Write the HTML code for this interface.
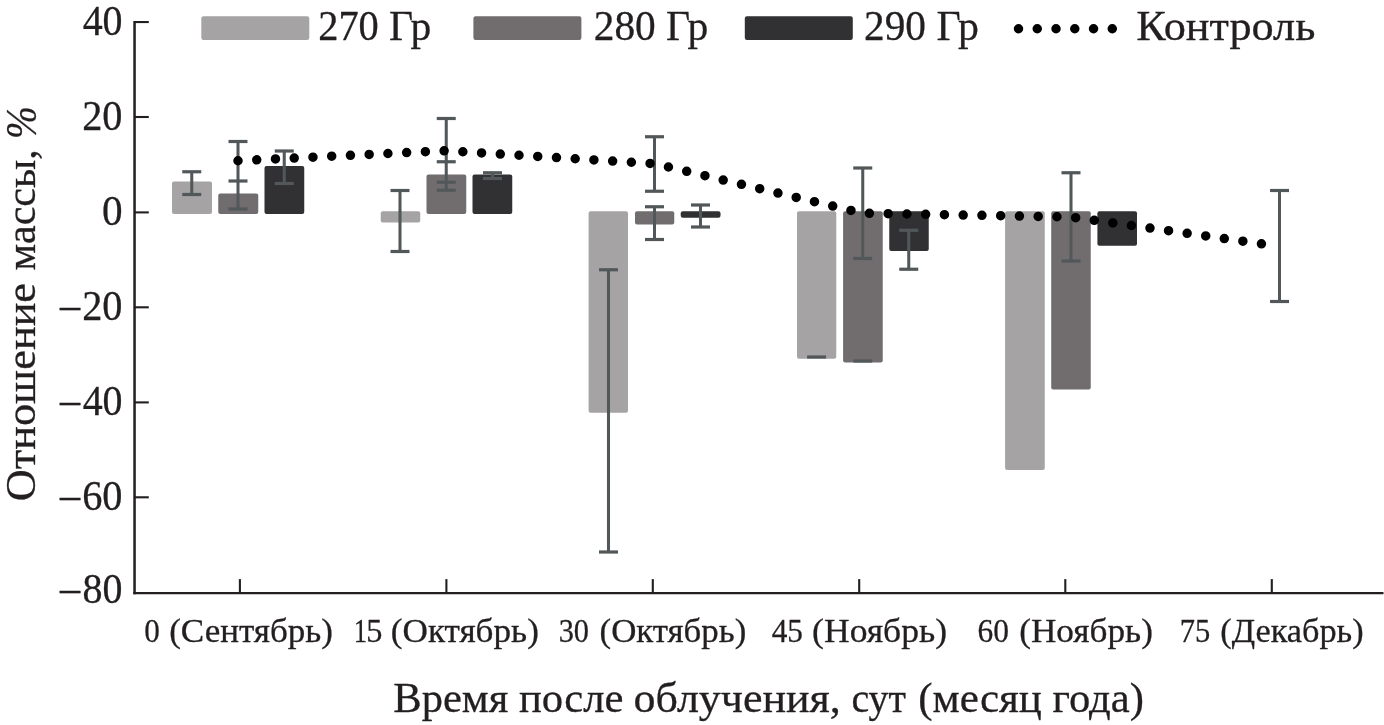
<!DOCTYPE html>
<html lang="ru">
<head>
<meta charset="utf-8">
<title>Отношение массы</title>
<style>
html,body{margin:0;padding:0;background:#fff;}
body{width:1384px;height:725px;overflow:hidden;}
svg{display:block;will-change:transform;}
text{font-family:"Liberation Serif","DejaVu Serif",serif;fill:#231f20;stroke:#231f20;stroke-width:0.3px;stroke-linejoin:round;}
</style>
</head>
<body>
<svg width="1384" height="725" viewBox="0 0 1384 725">
<rect x="0" y="0" width="1384" height="725" fill="#ffffff"/>
<g id="bars">
<rect x="172.00" y="181.50" width="40.00" height="32.50" rx="2" ry="2" fill="#a5a3a4"/>
<rect x="218.25" y="193.50" width="40.00" height="20.50" rx="2" ry="2" fill="#716d6e"/>
<rect x="264.50" y="166.00" width="39.75" height="48.00" rx="2" ry="2" fill="#313133"/>
<rect x="380.75" y="211.25" width="39.50" height="11.25" rx="2" ry="2" fill="#a5a3a4"/>
<rect x="426.50" y="174.50" width="39.75" height="39.50" rx="2" ry="2" fill="#716d6e"/>
<rect x="472.50" y="174.50" width="39.75" height="39.50" rx="2" ry="2" fill="#313133"/>
<rect x="588.60" y="211.25" width="39.40" height="201.50" rx="2" ry="2" fill="#a5a3a4"/>
<rect x="635.00" y="211.25" width="39.25" height="13.25" rx="2" ry="2" fill="#716d6e"/>
<rect x="680.75" y="211.25" width="39.75" height="6.50" rx="2" ry="2" fill="#313133"/>
<rect x="797.00" y="211.25" width="39.25" height="147.50" rx="2" ry="2" fill="#a5a3a4"/>
<rect x="843.10" y="211.25" width="39.65" height="151.25" rx="2" ry="2" fill="#716d6e"/>
<rect x="889.25" y="211.25" width="39.50" height="39.75" rx="2" ry="2" fill="#313133"/>
<rect x="1005.10" y="211.25" width="39.65" height="258.75" rx="2" ry="2" fill="#a5a3a4"/>
<rect x="1051.20" y="211.25" width="39.55" height="178.25" rx="2" ry="2" fill="#716d6e"/>
<rect x="1097.40" y="211.25" width="39.60" height="34.45" rx="2" ry="2" fill="#313133"/>
</g>
<g id="errs" stroke="#52585a">
<line x1="191.75" y1="171.75" x2="191.75" y2="194.50" stroke-width="3.05"/>
<line x1="182.25" y1="171.75" x2="201.25" y2="171.75" stroke-width="3.20"/>
<line x1="182.25" y1="194.50" x2="201.25" y2="194.50" stroke-width="3.20"/>
<line x1="238.00" y1="141.50" x2="238.00" y2="209.00" stroke-width="3.05"/>
<line x1="228.50" y1="141.50" x2="247.50" y2="141.50" stroke-width="3.20"/>
<line x1="228.50" y1="181.00" x2="247.50" y2="181.00" stroke-width="3.20"/>
<line x1="228.50" y1="209.00" x2="247.50" y2="209.00" stroke-width="3.20"/>
<line x1="284.25" y1="151.00" x2="284.25" y2="183.50" stroke-width="3.05"/>
<line x1="274.75" y1="151.00" x2="293.75" y2="151.00" stroke-width="3.20"/>
<line x1="274.75" y1="183.50" x2="293.75" y2="183.50" stroke-width="3.20"/>
<line x1="400.00" y1="190.50" x2="400.00" y2="251.50" stroke-width="3.05"/>
<line x1="390.50" y1="190.50" x2="409.50" y2="190.50" stroke-width="3.20"/>
<line x1="390.50" y1="251.50" x2="409.50" y2="251.50" stroke-width="3.20"/>
<line x1="446.25" y1="118.50" x2="446.25" y2="190.25" stroke-width="3.05"/>
<line x1="436.75" y1="118.50" x2="455.75" y2="118.50" stroke-width="3.20"/>
<line x1="436.75" y1="161.75" x2="455.75" y2="161.75" stroke-width="3.20"/>
<line x1="436.75" y1="182.25" x2="455.75" y2="182.25" stroke-width="3.20"/>
<line x1="436.75" y1="190.25" x2="455.75" y2="190.25" stroke-width="3.20"/>
<line x1="492.50" y1="172.75" x2="492.50" y2="178.50" stroke-width="3.05"/>
<line x1="483.00" y1="172.75" x2="502.00" y2="172.75" stroke-width="3.20"/>
<line x1="483.00" y1="178.50" x2="502.00" y2="178.50" stroke-width="3.20"/>
<line x1="608.50" y1="269.75" x2="608.50" y2="552.00" stroke-width="3.05"/>
<line x1="599.00" y1="269.75" x2="618.00" y2="269.75" stroke-width="3.20"/>
<line x1="599.00" y1="552.00" x2="618.00" y2="552.00" stroke-width="3.20"/>
<line x1="654.50" y1="136.75" x2="654.50" y2="191.25" stroke-width="3.05"/>
<line x1="645.00" y1="136.75" x2="664.00" y2="136.75" stroke-width="3.20"/>
<line x1="645.00" y1="191.25" x2="664.00" y2="191.25" stroke-width="3.20"/>
<line x1="654.50" y1="206.75" x2="654.50" y2="239.50" stroke-width="3.05"/>
<line x1="645.00" y1="206.75" x2="664.00" y2="206.75" stroke-width="3.20"/>
<line x1="645.00" y1="239.50" x2="664.00" y2="239.50" stroke-width="3.20"/>
<line x1="700.50" y1="205.00" x2="700.50" y2="227.00" stroke-width="3.05"/>
<line x1="691.00" y1="205.00" x2="710.00" y2="205.00" stroke-width="3.20"/>
<line x1="691.00" y1="227.00" x2="710.00" y2="227.00" stroke-width="3.20"/>
<line x1="807.10" y1="357.00" x2="826.10" y2="357.00" stroke-width="3.20"/>
<line x1="862.75" y1="168.00" x2="862.75" y2="258.50" stroke-width="3.05"/>
<line x1="853.25" y1="168.00" x2="872.25" y2="168.00" stroke-width="3.20"/>
<line x1="853.25" y1="258.50" x2="872.25" y2="258.50" stroke-width="3.20"/>
<line x1="853.25" y1="361.00" x2="872.25" y2="361.00" stroke-width="3.20"/>
<line x1="908.75" y1="230.25" x2="908.75" y2="269.25" stroke-width="3.05"/>
<line x1="899.25" y1="230.25" x2="918.25" y2="230.25" stroke-width="3.20"/>
<line x1="899.25" y1="269.25" x2="918.25" y2="269.25" stroke-width="3.20"/>
<line x1="1071.00" y1="172.75" x2="1071.00" y2="261.00" stroke-width="3.05"/>
<line x1="1061.50" y1="172.75" x2="1080.50" y2="172.75" stroke-width="3.20"/>
<line x1="1061.50" y1="261.00" x2="1080.50" y2="261.00" stroke-width="3.20"/>
<line x1="1279.50" y1="190.50" x2="1279.50" y2="301.50" stroke-width="3.05"/>
<line x1="1270.00" y1="190.50" x2="1289.00" y2="190.50" stroke-width="3.20"/>
<line x1="1270.00" y1="301.50" x2="1289.00" y2="301.50" stroke-width="3.20"/>
</g>
<polyline id="ctrl" points="238.00,160.75 446.25,150.70 654.50,163.70 862.75,213.20 1071.00,217.00 1279.25,246.30" fill="none" stroke="#000" stroke-width="9.5" stroke-linecap="round" stroke-linejoin="round" stroke-dasharray="0 18.76"/>
<g id="axes" stroke="#231f20" stroke-width="2.1" fill="none">
<line x1="134.55" y1="21" x2="134.55" y2="594.25" stroke-width="2.5"/>
<line x1="133.3" y1="593.1" x2="1383.5" y2="593.1" stroke-width="2.3"/>
<line x1="134.6" y1="22.05" x2="148.8" y2="22.05"/>
<line x1="134.6" y1="117.00" x2="148.8" y2="117.00"/>
<line x1="134.6" y1="212.40" x2="148.8" y2="212.40"/>
<line x1="134.6" y1="307.30" x2="148.8" y2="307.30"/>
<line x1="134.6" y1="402.40" x2="148.8" y2="402.40"/>
<line x1="134.6" y1="497.30" x2="148.8" y2="497.30"/>
<line x1="239.90" y1="579.1" x2="239.90" y2="593.1" stroke-width="2.1"/>
<line x1="446.40" y1="579.1" x2="446.40" y2="593.1" stroke-width="2.1"/>
<line x1="652.80" y1="579.1" x2="652.80" y2="593.1" stroke-width="2.1"/>
<line x1="859.20" y1="579.1" x2="859.20" y2="593.1" stroke-width="2.1"/>
<line x1="1065.30" y1="579.1" x2="1065.30" y2="593.1" stroke-width="2.1"/>
<line x1="1271.80" y1="579.1" x2="1271.80" y2="593.1" stroke-width="2.1"/>
</g>
<g id="legend">
<rect x="201.30" y="16.3" width="108" height="23.7" rx="2.2" ry="2.2" fill="#a5a3a4"/>
<rect x="473.40" y="16.3" width="108" height="23.7" rx="2.2" ry="2.2" fill="#716d6e"/>
<rect x="744.80" y="16.3" width="108" height="23.7" rx="2.2" ry="2.2" fill="#313133"/>
<line x1="1018.5" y1="28.75" x2="1112.3" y2="28.75" stroke="#000" stroke-width="9.5" stroke-linecap="round" stroke-dasharray="0 18.76"/>
</g>
<g id="texts">
<text id="leg1" font-size="42"><tspan id="leg1_0" x="318.21" y="40.00" textLength="60.58" lengthAdjust="spacingAndGlyphs">270</tspan> <tspan id="leg1_1" x="389.01" y="40.00" textLength="42.27" lengthAdjust="spacingAndGlyphs">Гр</tspan></text>
<text id="leg2" font-size="42"><tspan id="leg2_0" x="593.78" y="40.00" textLength="62.00" lengthAdjust="spacingAndGlyphs">280</tspan> <tspan id="leg2_1" x="666.01" y="40.00" textLength="42.27" lengthAdjust="spacingAndGlyphs">Гр</tspan></text>
<text id="leg3" font-size="42"><tspan id="leg3_0" x="864.03" y="40.00" textLength="61.95" lengthAdjust="spacingAndGlyphs">290</tspan> <tspan id="leg3_1" x="936.45" y="40.00" textLength="42.53" lengthAdjust="spacingAndGlyphs">Гр</tspan></text>
<text id="leg4" font-size="42"><tspan id="leg4_0" x="1136.30" y="40.00" textLength="179.09" lengthAdjust="spacingAndGlyphs">Контроль</tspan></text>
<text id="xl0" font-size="34"><tspan id="xl0_0" x="144.35" y="642.00" textLength="15.59" lengthAdjust="spacingAndGlyphs">0</tspan> <tspan id="xl0_1" x="169.16" y="642.00" textLength="163.78" lengthAdjust="spacingAndGlyphs">(Сентябрь)</tspan></text>
<text id="xl1" font-size="34"><tspan id="xl1_0" x="353.67" y="642.00" textLength="13.32" lengthAdjust="spacingAndGlyphs">1</tspan><tspan id="xl1_1" x="366.14" y="642.00" textLength="16.15" lengthAdjust="spacingAndGlyphs">5</tspan> <tspan id="xl1_2" x="390.80" y="642.00" textLength="148.07" lengthAdjust="spacingAndGlyphs">(Октябрь)</tspan></text>
<text id="xl2" font-size="34"><tspan id="xl2_0" x="558.66" y="642.00" textLength="30.36" lengthAdjust="spacingAndGlyphs">30</tspan> <tspan id="xl2_1" x="599.52" y="642.00" textLength="146.79" lengthAdjust="spacingAndGlyphs">(Октябрь)</tspan></text>
<text id="xl3" font-size="34"><tspan id="xl3_0" x="771.73" y="642.00" textLength="31.28" lengthAdjust="spacingAndGlyphs">45</tspan> <tspan id="xl3_1" x="812.14" y="642.00" textLength="134.88" lengthAdjust="spacingAndGlyphs">(Ноябрь)</tspan></text>
<text id="xl4" font-size="34"><tspan id="xl4_0" x="977.50" y="642.00" textLength="31.41" lengthAdjust="spacingAndGlyphs">60</tspan> <tspan id="xl4_1" x="1019.20" y="642.00" textLength="133.69" lengthAdjust="spacingAndGlyphs">(Ноябрь)</tspan></text>
<text id="xl5" font-size="34"><tspan id="xl5_0" x="1179.83" y="642.00" textLength="30.52" lengthAdjust="spacingAndGlyphs">75</tspan> <tspan id="xl5_1" x="1220.24" y="642.00" textLength="143.42" lengthAdjust="spacingAndGlyphs">(Декабрь)</tspan></text>
<text id="xt" font-size="42"><tspan id="xt_0" x="393.29" y="712.30" textLength="114.93" lengthAdjust="spacingAndGlyphs">Время</tspan> <tspan id="xt_1" x="518.94" y="712.30" textLength="104.45" lengthAdjust="spacingAndGlyphs">после</tspan> <tspan id="xt_2" x="633.63" y="712.30" textLength="207.21" lengthAdjust="spacingAndGlyphs">облучения,</tspan> <tspan id="xt_3" x="851.42" y="712.30" textLength="54.66" lengthAdjust="spacingAndGlyphs">сут</tspan> <tspan id="xt_4" x="918.26" y="712.30" textLength="123.51" lengthAdjust="spacingAndGlyphs">(месяц</tspan> <tspan id="xt_5" x="1052.44" y="712.30" textLength="91.41" lengthAdjust="spacingAndGlyphs">года)</tspan></text>
<text id="yt" font-size="43" transform="translate(34.80 0) rotate(-90)"><tspan id="yt_0" x="-501.25" y="0.00" textLength="218.31" lengthAdjust="spacingAndGlyphs">Отношение</tspan> <tspan id="yt_1" x="-270.38" y="0.00" textLength="121.16" lengthAdjust="spacingAndGlyphs">массы,</tspan> <tspan id="yt_2" x="-139.00" y="1.20" textLength="32.86" lengthAdjust="spacingAndGlyphs" font-style="italic" font-size="45">%</tspan></text>
<text id="yl0" font-size="42"><tspan id="yl0_0" x="82.68" y="34.80" textLength="39.90" lengthAdjust="spacingAndGlyphs">40</tspan></text>
<text id="yl1" font-size="42"><tspan id="yl1_0" x="82.17" y="130.40" textLength="40.28" lengthAdjust="spacingAndGlyphs">20</tspan></text>
<text id="yl2" font-size="42"><tspan id="yl2_0" x="102.08" y="224.80" textLength="20.60" lengthAdjust="spacingAndGlyphs">0</tspan></text>
<text id="yl3" font-size="42"><tspan id="yl3_0" x="57.59" y="323.40" textLength="25.11" lengthAdjust="spacingAndGlyphs">−</tspan><tspan id="yl3_1" x="82.17" y="320.00" textLength="40.28" lengthAdjust="spacingAndGlyphs">20</tspan></text>
<text id="yl4" font-size="42"><tspan id="yl4_0" x="57.59" y="418.30" textLength="25.11" lengthAdjust="spacingAndGlyphs">−</tspan><tspan id="yl4_1" x="82.68" y="414.90" textLength="39.90" lengthAdjust="spacingAndGlyphs">40</tspan></text>
<text id="yl5" font-size="42"><tspan id="yl5_0" x="57.59" y="513.10" textLength="25.11" lengthAdjust="spacingAndGlyphs">−</tspan><tspan id="yl5_1" x="82.17" y="509.70" textLength="40.28" lengthAdjust="spacingAndGlyphs">60</tspan></text>
<text id="yl6" font-size="42"><tspan id="yl6_0" x="57.59" y="606.40" textLength="25.11" lengthAdjust="spacingAndGlyphs">−</tspan><tspan id="yl6_1" x="82.62" y="603.00" textLength="39.91" lengthAdjust="spacingAndGlyphs">80</tspan></text>
</g>
</svg>
</body>
</html>
